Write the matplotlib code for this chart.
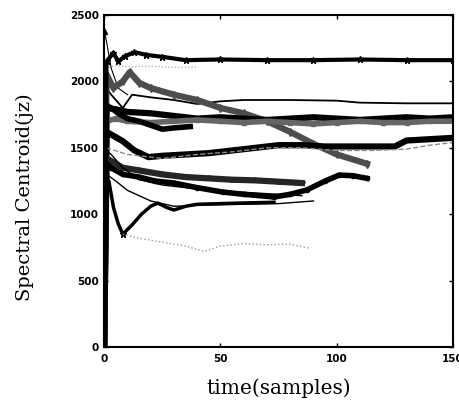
import matplotlib
matplotlib.use("Agg")
from matplotlib import pyplot as plt

# sample positions / centroid values, one pair per track
top_x = [0, 1, 4, 6, 9, 13, 18, 25, 35, 50, 70, 90, 110, 130, 150]
top_y = [0, 2150, 2215, 2150, 2190, 2220, 2200, 2185, 2160, 2165, 2160, 2160, 2165, 2160, 2160]

dot_hi_x = [0, 1, 5, 10, 20, 30, 40]
dot_hi_y = [0, 2100, 2120, 2110, 2115, 2105, 2110]

tri_x = [0, 1, 3, 6, 10]
tri_y = [2380, 2300, 2100, 1950, 1900]

thin_hi_x = [0, 1, 3, 8, 12, 20, 30, 40, 50, 60, 80, 100, 110, 130, 150]
thin_hi_y = [0, 1950, 1900, 1800, 1900, 1880, 1860, 1830, 1850, 1860, 1860, 1855, 1840, 1835, 1835]

diam_x = [0, 1, 4, 8, 11, 15, 20, 30, 40, 50, 60, 70, 80, 90, 100, 113]
diam_y = [0, 2050, 1950, 2000, 2070, 1990, 1950, 1900, 1860, 1800, 1760, 1700, 1620, 1530, 1450, 1380]

band_x = [0, 1, 5, 10, 20, 30, 40, 50, 60, 70, 80, 90, 100, 110, 120, 130, 140, 150]
band_y = [0, 1800, 1790, 1770, 1760, 1740, 1720, 1730, 1720, 1710, 1720, 1730, 1720, 1710, 1720, 1730, 1720, 1730]

band2_x = [0, 1, 5, 10, 20, 30, 40, 50, 60, 70, 80, 90, 100, 110, 120, 130, 140, 150]
band2_y = [0, 1700, 1720, 1700, 1690, 1700, 1710, 1700, 1690, 1700, 1690, 1680, 1690, 1700, 1690, 1690, 1700, 1700]

short_x = [0, 1, 3, 6, 10, 15, 20, 25, 30, 37]
short_y = [0, 1820, 1800, 1760, 1720, 1700, 1670, 1640, 1650, 1660]

rise_x = [0, 1, 3, 8, 13, 19, 25, 35, 45, 55, 65, 75, 85, 95, 105, 115, 125, 130, 140, 150]
rise_y = [0, 1620, 1600, 1550, 1480, 1430, 1440, 1450, 1460, 1480, 1500, 1520, 1520, 1510, 1510, 1510, 1510, 1555, 1565, 1575]

dash_x = [0, 1, 10, 25, 40, 55, 70, 85, 100, 115, 130, 140, 150]
dash_y = [0, 1500, 1450, 1420, 1450, 1470, 1500, 1500, 1480, 1480, 1490, 1520, 1540]

star_mid_x = [0, 1, 3, 8, 15, 25, 35, 45, 55, 65, 75, 85]
star_mid_y = [0, 1420, 1400, 1350, 1330, 1300, 1280, 1270, 1260, 1255, 1245, 1235]

mid_x = [0, 1, 3, 8, 15, 22, 30, 40, 51, 60, 73, 80, 87, 95, 101, 107, 113]
mid_y = [0, 1380, 1350, 1300, 1280, 1250, 1235, 1200, 1167, 1150, 1130, 1150, 1182, 1250, 1295, 1290, 1270]

thin_mid_x = [0, 1, 3, 8, 15, 25, 35, 45, 55, 65, 75, 85]
thin_mid_y = [0, 1480, 1450, 1350, 1260, 1220, 1200, 1180, 1170, 1160, 1150, 1140]

dip_x = [0, 1, 2, 4, 6, 8, 12, 16, 20, 23, 27, 30, 35, 40, 50, 60, 73]
dip_y = [0, 1280, 1250, 1050, 930, 850, 920, 1000, 1060, 1084, 1050, 1032, 1060, 1075, 1080, 1085, 1090]

thin_lo_x = [0, 1, 5, 10, 20, 30, 45, 60, 75, 90]
thin_lo_y = [0, 1300, 1250, 1180, 1100, 1060, 1070, 1075, 1080, 1100]

dot_lo_x = [8, 15, 25, 35, 43, 50, 60, 70, 80, 88]
dot_lo_y = [850, 820, 790, 760, 720, 760, 780, 770, 775, 745]

fig, ax = plt.subplots(figsize=(4.59, 4.05), dpi=100)
fig.subplots_adjust(left=0.227, right=0.987, bottom=0.143, top=0.963)

ax.plot(top_x, top_y, color="black", lw=3.0, marker="*", ms=5, zorder=5)
ax.plot(dot_hi_x, dot_hi_y, color="0.65", lw=0.9, ls=":")
ax.plot(tri_x, tri_y, color="black", lw=0.8, marker="^", ms=4, markevery=[0])
ax.plot(thin_hi_x, thin_hi_y, color="black", lw=1.3)
ax.plot(diam_x, diam_y, color="0.3", lw=4.5, marker="d", ms=4)
ax.plot(band_x, band_y, color="black", lw=4.5)
ax.plot(band2_x, band2_y, color="0.4", lw=4.0, marker="s", ms=3, mfc="none")
ax.plot(short_x, short_y, color="black", lw=4.0)
ax.plot(rise_x, rise_y, color="black", lw=4.5)
ax.plot(dash_x, dash_y, color="0.55", lw=1.0, ls="--")
ax.plot(star_mid_x, star_mid_y, color="0.15", lw=4.5, marker="*", ms=4)
ax.plot(mid_x, mid_y, color="black", lw=4.0, marker="o", ms=3)
ax.plot(thin_mid_x, thin_mid_y, color="black", lw=1.0)
ax.plot(dip_x, dip_y, color="black", lw=2.5, marker="*", ms=5, markevery=[5])
ax.plot(thin_lo_x, thin_lo_y, color="black", lw=1.0)
ax.plot(dot_lo_x, dot_lo_y, color="0.6", lw=1.0, ls=":")

ax.set_xlim(0, 150)
ax.set_ylim(0, 2500)
ax.set_xticks([0, 50, 100, 150])
ax.set_yticks([0, 500, 1000, 1500, 2000, 2500])
ax.tick_params(direction="in", top=True, right=True, length=3, width=1)
ax.tick_params(axis="x", pad=5)
ax.tick_params(axis="y", pad=4)
for lbl in ax.get_xticklabels() + ax.get_yticklabels():
    lbl.set_family(["Liberation Sans Narrow", "DejaVu Sans"])
    lbl.set_fontweight("bold")
    lbl.set_fontsize(7.5)
for spine in ax.spines.values():
    spine.set_linewidth(1.5)

ax.set_xlabel("time(samples)", family="DejaVu Serif", fontsize=14.5, labelpad=10)
ax.set_ylabel("Spectral Centroid(jz)", family="DejaVu Serif", fontsize=14)
ax.yaxis.set_label_coords(-0.2, 0.45)

fig.savefig("out.png")
